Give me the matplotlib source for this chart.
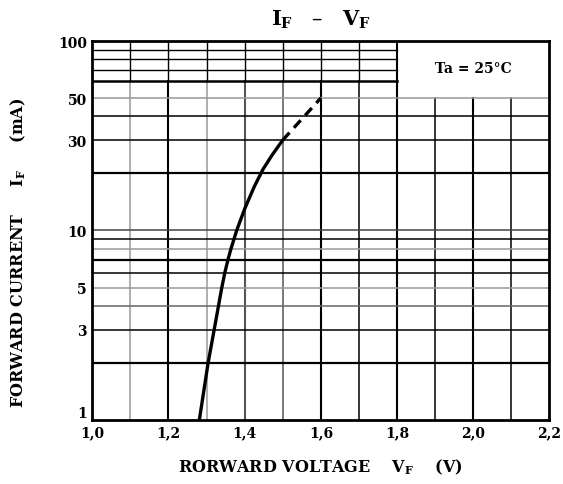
import matplotlib
matplotlib.use("Agg")
import matplotlib.pyplot as plt

plt.rcParams["font.family"] = ["DejaVu Serif"]
plt.rcParams["mathtext.fontset"] = "dejavuserif"

# 曲线数据
vf_solid = [1.281, 1.304, 1.320, 1.340, 1.348, 1.356, 1.364, 1.379, 1.400, 1.425, 1.448, 1.472, 1.500]
if_solid = [1, 2, 3, 5, 6, 7, 8, 10, 13, 17, 21, 25, 30]
vf_dash = [1.50, 1.60]
if_dash = [30, 50]

x_ticks = [1.0, 1.2, 1.4, 1.6, 1.8, 2.0, 2.2]
x_labels = ["1,0", "1,2", "1,4", "1,6", "1,8", "2,0", "2,2"]
y_ticks = [1, 3, 5, 10, 30, 50, 100]
y_labels = ["1", "3", "5", "10", "30", "50", "100"]

v_grid = [1.1, 1.2, 1.3, 1.4, 1.5, 1.6, 1.7, 1.8, 1.9, 2.0, 2.1]
i_grid = [2, 3, 4, 5, 6, 7, 8, 9, 10, 20, 30, 40, 50]
i_grid_top = [70, 80, 90]

v_col = {1.1: "#999999", 1.3: "#999999", 1.4: "#555555", 1.5: "#555555"}
i_col = {5: "#999999", 8: "#999999", 50: "#999999", 4: "#666666", 10: "#444444"}

fig = plt.figure(figsize=(5.63, 4.85), dpi=100)
ax = fig.add_axes([0.164, 0.132, 0.8117, 0.7814])
ax.set_yscale("log")
ax.set_xlim(1.0, 2.2)
ax.set_ylim(1, 100)

# 竖直网格线
for v in v_grid:
    col = v_col.get(v, "black")
    lw = 1.5 if round(v * 10) % 2 == 0 else 1.1
    top = 50 if v > 1.85 else 61.5
    if v == 1.8:
        top = 100
    ax.plot([v, v], [1, top], color=col, lw=lw, zorder=1)
    if v < 1.8:
        ax.plot([v, v], [61.5, 100], color="black", lw=1.0, zorder=1)

# 水平网格线
for i in i_grid:
    col = i_col.get(i, "black")
    lw = 1.6 if i in (2, 7, 20) else 1.1
    ax.plot([1.0, 2.2], [i, i], color=col, lw=lw, zorder=1)
for i in i_grid_top:
    ax.plot([1.0, 1.8], [i, i], color="black", lw=1.0, zorder=1)
ax.plot([1.0, 1.8], [61.5, 61.5], color="black", lw=1.8, zorder=1)

# 特性曲线
ax.plot(vf_solid, if_solid, color="black", lw=2.4, zorder=3, solid_capstyle="butt")
ax.plot(vf_dash, if_dash, color="black", lw=2.4, zorder=3, dashes=(3, 2))

ax.text(2.0, 72, "Ta = 25°C", ha="center", va="center", fontsize=10, fontweight="bold")

ax.set_xticks(x_ticks)
ax.set_xticklabels(x_labels, fontsize=10, fontweight="bold")
ax.set_yticks(y_ticks)
ax.set_yticklabels(y_labels, fontsize=10, fontweight="bold")
ax.minorticks_off()
ax.tick_params(axis="x", length=0, pad=4)
ax.tick_params(axis="y", length=0, pad=4)
ax.get_yticklabels()[0].set_va("bottom")
for s in ax.spines.values():
    s.set_linewidth(2)

ax.set_title(r"$\mathbf{I_F}$   –   $\mathbf{V_F}$", fontsize=15, pad=12)
ax.set_xlabel(r"RORWARD VOLTAGE    $\mathbf{V_F}$    (V)", fontsize=11.5, fontweight="bold", labelpad=12)
ax.set_ylabel(r"FORWARD CURRENT     $\mathbf{I_F}$     (mA)", fontsize=11.5, fontweight="bold")
ax.yaxis.set_label_coords(-0.14, 0.445)

plt.savefig("out.png", dpi=100)
